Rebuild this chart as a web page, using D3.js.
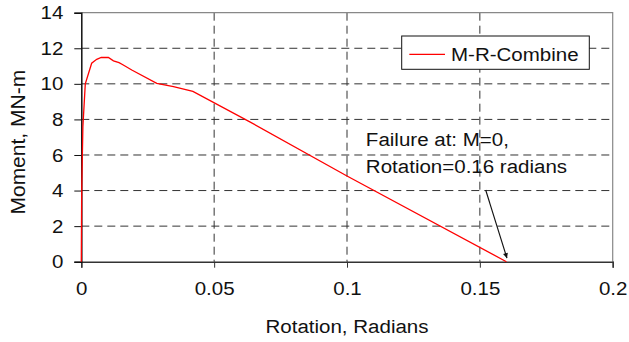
<!DOCTYPE html>
<html>
<head>
<meta charset="utf-8">
<script src="https://cdn.jsdelivr.net/npm/d3@7"></script>
<style>
  body { margin: 0; background: #fff; }
  text { font-family: 'Liberation Sans', Arial, sans-serif; fill: #111; }
</style>
</head>
<body>
<div id="chart"></div>
<script>
// M-R curve
var rotation = [0, 0.00015, 0.0006, 0.0015, 0.0039, 0.0058, 0.0075, 0.0102, 0.0121,
                0.0142, 0.0158, 0.019, 0.0284, 0.0347, 0.042, 0.0636, 0.1, 0.16];
var moment   = [0, 4.0, 7.6, 10.0, 11.16, 11.38, 11.48, 11.48, 11.29,
                11.19, 11.06, 10.78, 10.03, 9.84, 9.58, 7.85, 4.82, 0];
var xTicks = [0, 0.05, 0.1, 0.15, 0.2];
var yTicks = [0, 2, 4, 6, 8, 10, 12, 14];
var seriesName = 'M-R-Combine';
var noteLines = ['Failure at: M=0,', 'Rotation=0.16 radians'];
var xTitle = 'Rotation, Radians';
var yTitle = 'Moment, MN-m';

var W = 629, H = 342;
var margin = {top: 12.7, right: 16.3, bottom: 80.3, left: 81.3},
    width = W - margin.left - margin.right,
    height = H - margin.top - margin.bottom;
var SX = 1.08;   // text in the picture is a bit stretched sideways
var FONT = '19px';

var x = d3.scaleLinear().domain([0, 0.2]).range([0, width]);
var y = d3.scaleLinear().domain([0, 14]).range([height, 0]);

var svg = d3.select('#chart').append('svg')
    .attr('width', W).attr('height', H)
  .append('g')
    .attr('transform', 'translate(' + margin.left + ',' + margin.top + ')');

svg.append('defs').append('marker')
    .attr('id', 'arrow')
    .attr('viewBox', '0 0 10 10')
    .attr('refX', 10).attr('refY', 5)
    .attr('markerWidth', 9).attr('markerHeight', 5)
    .attr('markerUnits', 'userSpaceOnUse')
    .attr('orient', 'auto')
  .append('path')
    .attr('d', 'M0,0 L10,5 L0,10 z')
    .attr('fill', '#111');

// grid
svg.append('g').selectAll('line.hg')
    .data(yTicks.filter(d => d > 0 && d < 14))
  .enter().append('line')
    .attr('x1', 0).attr('x2', width)
    .attr('y1', d => y(d)).attr('y2', d => y(d))
    .attr('stroke', '#333').attr('stroke-width', 1)
    .attr('stroke-dasharray', '8,5');
svg.append('g').selectAll('line.vg')
    .data(xTicks.filter(d => d > 0 && d < 0.2))
  .enter().append('line')
    .attr('x1', d => x(d)).attr('x2', d => x(d))
    .attr('y1', 0).attr('y2', height)
    .attr('stroke', '#333').attr('stroke-width', 1)
    .attr('stroke-dasharray', '8,5');

// top & right frame
svg.append('path')
    .attr('d', 'M0,' + y(14) + 'H' + x(0.2) + 'V' + y(0))
    .attr('fill', 'none').attr('stroke', '#888').attr('stroke-width', 1.2);

// axes
var xaxis = d3.axisBottom(x).tickValues(xTicks).tickSize(6).tickPadding(14)
    .tickFormat(d => d === 0 ? '0' : String(d));
var yaxis = d3.axisLeft(y).tickValues(yTicks).tickSize(7).tickPadding(10);

var gx = svg.append('g')
    .attr('transform', 'translate(0,' + height + ')')
    .call(xaxis);
gx.select('.domain').attr('stroke', '#333').attr('stroke-width', 1.5);
gx.selectAll('.tick line').attr('stroke', '#333');
gx.selectAll('.tick text')
    .style('font-size', FONT).attr('fill', '#111')
    .attr('transform', 'scale(' + SX + ',1)');

var gy = svg.append('g').call(yaxis);
gy.select('.domain').attr('stroke', '#111').attr('stroke-width', 1.5);
gy.selectAll('.tick line').attr('stroke', '#111');
gy.selectAll('.tick text')
    .style('font-size', FONT).attr('fill', '#111')
    .attr('x', -18 / SX)
    .attr('transform', 'scale(' + SX + ',1)');

// curve
var pts = rotation.map((r, i) => [r, moment[i]]);
svg.append('path')
    .datum(pts)
    .attr('fill', 'none')
    .attr('stroke', '#ff0000')
    .attr('stroke-width', 1.3)
    .attr('d', d3.line().x(d => x(d[0])).y(d => y(d[1])));

// annotation
var note = svg.append('g')
    .attr('transform', 'translate(' + x(0.1071) + ',' + y(6.5) + ') scale(' + SX + ',1)');
note.selectAll('text').data(noteLines).enter().append('text')
    .style('font-size', FONT)
    .attr('y', (d, i) => i * 27.3)
    .text(d => d);

svg.append('line')
    .attr('x1', x(0.1522)).attr('y1', y(4.03))
    .attr('x2', x(0.1602)).attr('y2', y(0.2))
    .attr('stroke', '#111').attr('stroke-width', 1.1)
    .attr('marker-end', 'url(#arrow)');

// legend
var leg = svg.append('g')
    .attr('transform', 'translate(' + (401.7 - margin.left) + ',' + (36 - margin.top) + ')');
leg.append('rect')
    .attr('width', 187.6).attr('height', 33.3)
    .attr('fill', '#fff').attr('stroke', '#111').attr('stroke-width', 1);
leg.append('line')
    .attr('x1', 7.6).attr('x2', 43.3).attr('y1', 18.3).attr('y2', 18.3)
    .attr('stroke', '#ff0000').attr('stroke-width', 1.3);
leg.append('text')
    .attr('transform', 'translate(49.3,24.7) scale(' + SX + ',1)')
    .style('font-size', FONT)
    .text(seriesName);

// axis titles
svg.append('text')
    .attr('transform', 'translate(' + (width / 2) + ',' + (height + 71) + ') scale(' + SX + ',1)')
    .style('font-size', FONT)
    .style('text-anchor', 'middle')
    .text(xTitle);
svg.append('text')
    .attr('transform', 'translate(' + (-56) + ',' + (height / 2 + 5) + ') rotate(-90)')
    .style('font-size', '21px')
    .style('text-anchor', 'middle')
    .text(yTitle);
</script>
</body>
</html>
